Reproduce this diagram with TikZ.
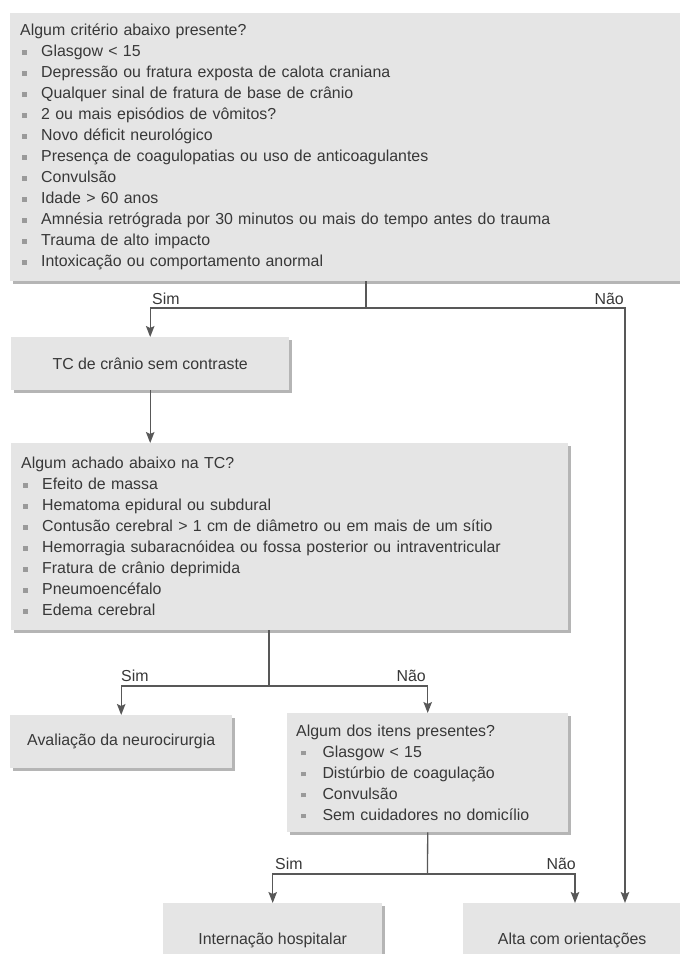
\documentclass[tikz,border=0pt]{standalone}
\usepackage{fontspec}
\setmainfont{Liberation Sans}
\usetikzlibrary{arrows.meta,shadows}
\definecolor{boxfill}{HTML}{E5E5E5}
\definecolor{shadowc}{HTML}{B5B5B5}
\definecolor{linec}{HTML}{585858}
\definecolor{txtc}{HTML}{383838}
\definecolor{bulc}{HTML}{9A9A9A}
\newcommand\bul[1][2pt]{\makebox[21pt][l]{\hspace{#1}\textcolor{bulc}{\rule[2pt]{4.5pt}{4.5pt}}}}
\begin{document}
\begin{tikzpicture}[x=1pt,y=-1pt,
  box/.style={fill=boxfill, draw=none,
    drop shadow={shadow xshift=2.5pt,shadow yshift=-2.5pt,fill=shadowc,opacity=1},
    anchor=north west, inner sep=0pt, text=txtc, font=\fontsize{15.9}{21}\selectfont},
  listbox/.style={box, align=left, inner xsep=10pt},
  conn/.style={draw=linec, line width=1.3pt},
  arr/.style={conn, -{Stealth[length=11pt,width=8.5pt,inset=2pt]}},
  lab/.style={text=txtc, font=\fontsize{15.9}{18}\selectfont, inner sep=0pt}]
\clip (0,0) rectangle (680,954);

\node[listbox, text width=660pt, minimum height=268pt] (crit) at (10,13) {Algum critério abaixo presente?\\
\bul Glasgow < 15\\
\bul Depressão ou fratura exposta de calota craniana\\
\bul Qualquer sinal de fratura de base de crânio\\
\bul 2 ou mais episódios de vômitos?\\
\bul Novo déficit neurológico\\
\bul Presença de coagulopatias ou uso de anticoagulantes\\
\bul Convulsão\\
\bul Idade > 60 anos\\
\bul Amnésia retrógrada por 30 minutos ou mais do tempo antes do trauma\\
\bul Trauma de alto impacto\\
\bul Intoxicação ou comportamento anormal};

\node[box, minimum width=278pt, minimum height=53pt] (tc) at (11,337) {TC de crânio sem contraste};

\node[listbox, text width=537pt, minimum height=187pt] (achado) at (11,443) {Algum achado abaixo na TC?\\
\bul Efeito de massa\\
\bul Hematoma epidural ou subdural\\
\bul Contusão cerebral > 1 cm de diâmetro ou em mais de um sítio\\
\bul Hemorragia subaracnóidea ou fossa posterior ou intraventricular\\
\bul Fratura de crânio deprimida\\
\bul Pneumoencéfalo\\
\bul Edema cerebral};

\node[box, minimum width=222pt, minimum height=53pt] (aval) at (10,715) {Avaliação da neurocirurgia};

\node[listbox, inner xsep=9pt, text width=263pt, minimum height=119pt] (itens) at (287,713) {Algum dos itens presentes?\\
\bul[5pt] Glasgow < 15\\
\bul[5pt] Distúrbio de coagulação\\
\bul[5pt] Convulsão\\
\bul[5pt] Sem cuidadores no domicílio};

\node[box, minimum width=219pt, minimum height=74pt] (intern) at (163,903) {Internação hospitalar};
\node[box, minimum width=218pt, minimum height=74pt] (alta) at (463,903) {Alta com orientações};

\coordinate (j1) at (366,308);
\coordinate (altaR) at (625,903);
\coordinate (j2) at (269,686);
\coordinate (j3) at (427.5,874);
\coordinate (altaL) at (575,903);

\draw[conn] (crit.south -| j1) -- (j1);
\draw[arr] (j1) -| (tc.north);
\draw[arr] (j1) -| (altaR);
\draw[arr] (tc.south) -- (achado.north -| tc.south);
\draw[conn] (achado.south -| j2) -- (j2);
\draw[arr] (j2) -| (aval.north);
\draw[arr] (j2) -| (itens.north);
\draw[conn] (itens.south) -- (j3);
\draw[arr] (j3) -| (intern.north);
\draw[arr] (j3) -| (altaL);

\node[lab, anchor=base west] (s1) at (152,304) {Sim};
\node[lab, anchor=base east] (n1) at (624,304) {Não};
\node[lab, anchor=base west] (s2) at (121,681) {Sim};
\node[lab, anchor=base east] (n2) at (426,681) {Não};
\node[lab, anchor=base west] (s3) at (275,869) {Sim};
\node[lab, anchor=base east] (n3) at (576,869) {Não};
\end{tikzpicture}
\end{document}
